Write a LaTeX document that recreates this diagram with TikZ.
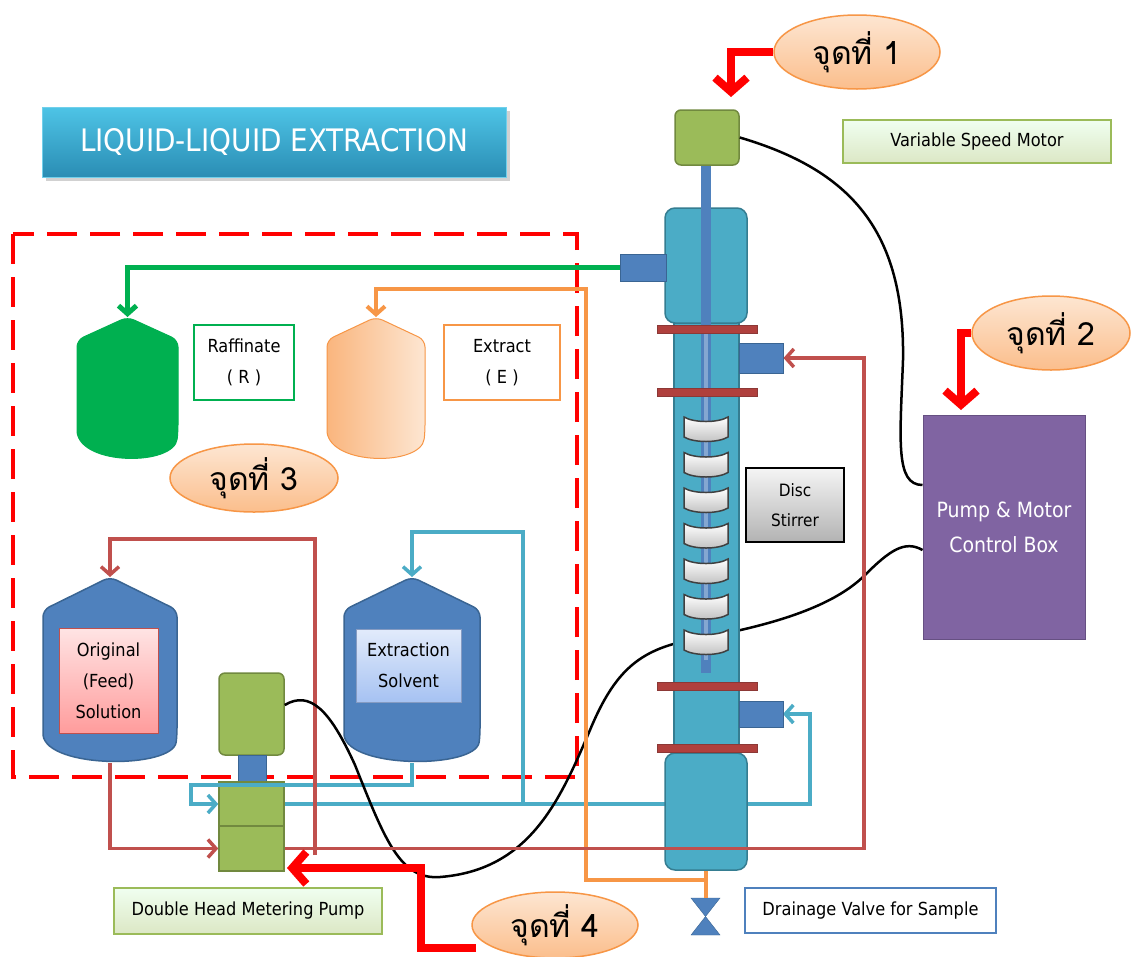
\documentclass[tikz,border=0pt]{standalone}
\usepackage{fontspec}
\setmainfont{DejaVu Sans Condensed}
\newfontfamily\thaifont[Script=Thai]{Loma}
\usetikzlibrary{arrows.meta,shapes.geometric}

\definecolor{tankblue}{HTML}{4F81BD}
\definecolor{tankblueline}{HTML}{3A6593}
\definecolor{colteal}{HTML}{4BACC6}
\definecolor{coltealline}{HTML}{357D91}
\definecolor{motorgreen}{HTML}{9BBB59}
\definecolor{motorline}{HTML}{71893F}
\definecolor{flange}{HTML}{B0403D}
\definecolor{flangeline}{HTML}{8C3836}
\definecolor{ctrlpurple}{HTML}{8064A2}
\definecolor{raffgreen}{HTML}{00B050}
\definecolor{pipered}{HTML}{C0504D}
\definecolor{pipecyan}{HTML}{4BACC6}
\definecolor{pipeorange}{HTML}{F79646}
\definecolor{alertred}{HTML}{FF0000}
\definecolor{peachA}{HTML}{FDE6D2}
\definecolor{peachB}{HTML}{FBBE8C}
\definecolor{titletop}{HTML}{4EC4E6}
\definecolor{titlebot}{HTML}{2A8DB4}
\definecolor{solvtopc}{HTML}{E2EBFB}
\definecolor{solvbotc}{HTML}{A6C2F2}
\definecolor{feedtopc}{HTML}{FFE4E4}
\definecolor{feedbotc}{HTML}{FF9C9C}

\newcommand\drawvessel[6]{% style, left, right, top, shoulder, bottom
  \path[#1,rounded corners=7pt] (#2,#6-28) -- (#2,#5) -- ({(#2+#3)/2},#4) -- (#3,#5) -- (#3,#6-28)
    [sharp corners] .. controls (#3-4,#6+6) and (#2+4,#6+6) .. (#2,#6-28) -- cycle;}

\begin{document}
\begin{tikzpicture}[x=1pt,y=-1pt,
  arr/.style={-{Straight Barb[length=8pt,width=18pt]}},
  bigred/.style={draw=alertred,line width=8pt,-{Straight Barb[length=14pt,width=32pt]}},
  rline/.style={draw=pipered,line width=3.5pt},
  cline/.style={draw=pipecyan,line width=3.5pt},
  gline/.style={draw=raffgreen,line width=5pt},
  oline/.style={draw=pipeorange,line width=4pt},
  cable/.style={draw=black,line width=2.5pt},
  lbl/.style={font=\fontsize{18}{31}\selectfont,align=center,inner sep=0pt},
  callout/.style={ellipse,draw=pipeorange,line width=1.5pt,top color=peachA,bottom color=peachB,
    font=\thaifont\fontsize{32}{36}\selectfont,inner sep=0pt},
  greenlabel/.style={draw=motorgreen,line width=1.5pt,top color=green!6!white,bottom color=motorgreen!35!white,
    font=\fontsize{18}{20}\selectfont,inner sep=0pt},
  motor/.style={draw=motorline,line width=1.5pt,fill=motorgreen,rounded corners=6pt,inner sep=0pt},
  port/.style={draw=tankblueline,line width=1pt,fill=tankblue,inner sep=0pt},
  flangebar/.style={draw=flangeline,line width=1pt,fill=flange,inner sep=0pt,minimum width=100pt,minimum height=8pt},
  colsec/.style={draw=coltealline,line width=1.5pt,fill=colteal,inner sep=0pt},
]
\path[fill=white] (0,0) rectangle (1131,956);
\useasboundingbox (0,0) rectangle (1131,956);

% title banner
\fill[black!18] (46,111) rectangle (510,181);
\node[draw=titletop!80!white,line width=1pt,top color=titletop,bottom color=titlebot,
  minimum width=464pt,minimum height=70pt,text=white,font=\fontsize{31}{33}\selectfont] (title) at (274,142) {LIQUID-LIQUID EXTRACTION};

% dashed region around the storage tanks
\draw[alertred,line width=3.5pt,dash pattern=on 30pt off 13pt] (13,234) rectangle (577,777);

% storage vessels
\drawvessel{fill=raffgreen,draw=raffgreen,line width=1pt}{77}{178}{317}{340}{460}
\drawvessel{left color=pipeorange!70!white,right color=peachA,draw=pipeorange,line width=1pt}{327}{425}{317}{340}{460}
\drawvessel{fill=tankblue,draw=tankblueline,line width=1.5pt}{43}{177}{577}{610}{763}
\drawvessel{fill=tankblue,draw=tankblueline,line width=1.5pt}{344}{480}{577}{610}{763}
\coordinate (rafftop) at (127.5,317);
\coordinate (exttop) at (376,317);
\coordinate (feedtop) at (110,577);
\coordinate (feedbot) at (110,763);
\coordinate (solvtop) at (412,577);
\coordinate (solvbot) at (412,763);

\node[draw=pipered,line width=1pt,top color=feedtopc,bottom color=feedbotc,minimum width=99pt,minimum height=105pt,lbl] (feedlbl) at (108.5,680.5) {Original\\(Feed)\\Solution};
\node[draw=solvbotc!80!black,line width=0.8pt,top color=solvtopc,bottom color=solvbotc,minimum width=105pt,minimum height=73pt,lbl] (solvlbl) at (408.5,665.5) {Extraction\\Solvent};

\node[draw=raffgreen,line width=2pt,fill=white,minimum width=100pt,minimum height=75pt,lbl] (rafflbl) at (244,362.5) {Raffinate\\( R )};
\node[draw=pipeorange,line width=2pt,fill=white,minimum width=116pt,minimum height=75pt,lbl] (extlbl) at (502,362.5) {Extract\\( E )};

% metering pump
\node[motor,minimum width=65pt,minimum height=82pt] (pumpmotor) at (251.5,714) {};
\node[port,minimum width=28pt,minimum height=27pt] (coupling) at (252,768.5) {};
\node[draw=motorline,line width=1.5pt,fill=motorgreen,minimum width=65pt,minimum height=44pt,inner sep=0pt] (pumpT) at (251.5,804) {};
\node[draw=motorline,line width=1.5pt,fill=motorgreen,minimum width=65pt,minimum height=45pt,inner sep=0pt] (pumpB) at (251.5,848.5) {};
\node[greenlabel,minimum width=268pt,minimum height=46pt] (pumplbl) at (248,911) {Double Head Metering Pump};

% solvent and feed pipework
\draw[cline,arr] (solvbot) -- (412,785) -| (191,804) -- (pumpT.west);
\draw[cline,arr] (523,804) -- (523,532) -| (solvtop);
\draw[cline,arr] (pumpT.east) -| (810,714) -- (783,714);
\draw[rline,arr] (feedbot) |- (pumpB.west);
\draw[rline,arr] (315,855) -- (315,539) -| (feedtop);

% control cables
\node[draw=ctrlpurple!80!black,line width=1pt,fill=ctrlpurple,minimum width=162pt,minimum height=224pt,
  text=white,font=\fontsize{21}{35}\selectfont,align=center,inner sep=0pt] (ctrl) at (1004,527) {Pump \& Motor\\Control Box};
\draw[cable] ([yshift=9pt]pumpmotor.east) .. controls (310,690) and (330,710) .. (355,765)
  .. controls (385,840) and (400,880) .. (440,877) .. controls (530,870) and (560,800) .. (590,730)
  .. controls (615,670) and (640,650) .. (690,640) .. controls (760,628) and (830,610) .. (865,575)
  .. controls (890,550) and (905,540) .. ([yshift=-23pt]ctrl.west);

% extraction column
\node[colsec,minimum width=65pt,minimum height=438pt] (colmid) at (706.5,539) {};
\node[colsec,rounded corners=10pt,minimum width=82pt,minimum height=115pt] (colupper) at (706,265.5) {};
\node[colsec,rounded corners=10pt,minimum width=82pt,minimum height=117pt] (collower) at (706,811.5) {};
\fill[tankblue] (701,165) rectangle (711,673);
\fill[tankblue!70!white] (704,330) rectangle (708,660);
\foreach \yy in {417,452.5,488,523.5,559,594.5,630}{
  \path[draw=black!75,line width=1.5pt,top color=white,bottom color=black!25]
    (684,\yy) .. controls (694,\yy+6) and (718,\yy+6) .. (728,\yy) -- (728,\yy+20)
    .. controls (718,\yy+26) and (694,\yy+26) .. (684,\yy+20) -- cycle;}
\node[flangebar] (fl1) at (707,329) {};
\node[flangebar] (fl2) at (707,392) {};
\node[flangebar] (fl3) at (707,686.5) {};
\node[flangebar] (fl4) at (707,748.5) {};
\node[port,minimum width=46pt,minimum height=27pt] (portL) at (643,267.5) {};
\node[port,minimum width=44pt,minimum height=30pt] (portR1) at (761,358) {};
\node[port,minimum width=44pt,minimum height=26pt] (portR2) at (761,714) {};
\node[motor,minimum width=64pt,minimum height=55pt] (topmotor) at (707,137.5) {};

\node[draw=black,line width=1.5pt,top color=black!4,bottom color=black!30,minimum width=98pt,minimum height=74pt,lbl,
  font=\fontsize{17}{30}\selectfont] (stirlbl) at (795,505) {Disc\\Stirrer};

% raffinate and extract lines, column feed
\draw[gline,arr] (portL.west) -| (rafftop);
\node[draw=tankblue,line width=1.5pt,fill=tankblue,inner sep=0pt,minimum width=0pt,minimum height=0pt] (valve) at (705.5,916.5) {};
\fill[tankblue,draw=tankblueline] (691,898) -- (720,898) -- (705.5,916.5) -- cycle;
\fill[tankblue,draw=tankblueline] (691,935) -- (720,935) -- (705.5,916.5) -- cycle;
\coordinate (drainj) at (706,880);
\draw[oline] (collower.south) -- (706,898);
\draw[oline,arr] (drainj) -| (586,289) -| (exttop);
\draw[rline,arr] (pumpB.east) -| (864,358) -- (portR1.east);

\draw[cable] (topmotor.east) .. controls (850,170) and (905,230) .. (903,360)
  .. controls (900,440) and (895,485) .. ([yshift=42pt]ctrl.west);

% labels
\node[greenlabel,minimum width=268pt,minimum height=43pt] (motorlbl) at (977,141.5) {Variable Speed Motor};
\node[draw=tankblue,line width=1.5pt,fill=white,minimum width=251pt,minimum height=45pt,inner sep=0pt,
  font=\fontsize{18}{20}\selectfont] (drainlbl) at (870.5,910.5) {Drainage Valve for Sample};

% observation points
\node[callout,minimum width=166pt,minimum height=74pt] (p1) at (857,52) {จุดที่ 1};
\node[callout,minimum width=158pt,minimum height=74pt] (p2) at (1051,333) {จุดที่ 2};
\node[callout,minimum width=168pt,minimum height=68pt] (p3) at (254,478) {จุดที่ 3};
\node[callout,minimum width=166pt,minimum height=66pt] (p4) at (555,925) {จุดที่ 4};
\draw[bigred] (p1.west) -| (731,97);
\draw[bigred] (p2.west) -| (961,410);
\draw[bigred] (476,948) -| (421,868) -- (287,868);
\end{tikzpicture}
\end{document}
